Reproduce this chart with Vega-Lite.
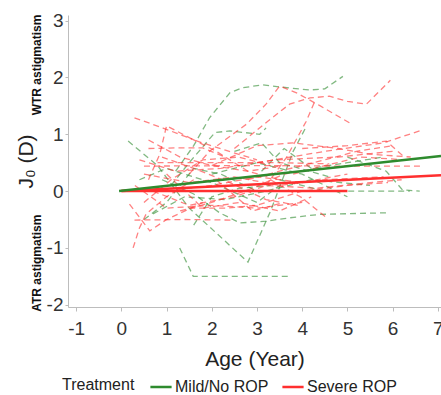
{
  "$schema": "https://vega.github.io/schema/vega-lite/v6.json",
  "autosize": "none",
  "width": 373,
  "height": 292,
  "padding": {"left": 68, "top": 15, "right": 0, "bottom": 88},
  "background": "white",
  "config": {
    "font": "Liberation Sans",
    "view": {"stroke": null},
    "axis": {"grid": false, "domainColor": "#bdbdbd", "tickColor": "#bdbdbd", "labelColor": "#333333", "titleColor": "#222222", "labelFont": "Liberation Sans", "titleFont": "Liberation Sans", "titleFontWeight": "normal"}
  },
  "datasets": {
    "traj": [
      {"id": "g1", "group": "Mild/No ROP", "age": 1.2, "j0": 0.35},
      {"id": "g1", "group": "Mild/No ROP", "age": 1.6, "j0": 0.8},
      {"id": "g1", "group": "Mild/No ROP", "age": 1.95, "j0": 1.29},
      {"id": "g1", "group": "Mild/No ROP", "age": 2.4, "j0": 1.73},
      {"id": "g1", "group": "Mild/No ROP", "age": 2.68, "j0": 1.82},
      {"id": "g1", "group": "Mild/No ROP", "age": 3.13, "j0": 1.87},
      {"id": "g1", "group": "Mild/No ROP", "age": 3.66, "j0": 1.82},
      {"id": "g1", "group": "Mild/No ROP", "age": 4.17, "j0": 1.78},
      {"id": "g1", "group": "Mild/No ROP", "age": 4.5, "j0": 1.8},
      {"id": "g1", "group": "Mild/No ROP", "age": 4.9, "j0": 2.02},
      {"id": "g2", "group": "Mild/No ROP", "age": 0.15, "j0": 0.88},
      {"id": "g2", "group": "Mild/No ROP", "age": 0.8, "j0": 0.45},
      {"id": "g2", "group": "Mild/No ROP", "age": 1.5, "j0": -0.3},
      {"id": "g2", "group": "Mild/No ROP", "age": 2.8, "j0": -1.25},
      {"id": "g2", "group": "Mild/No ROP", "age": 3.3, "j0": -0.35},
      {"id": "g2", "group": "Mild/No ROP", "age": 3.8, "j0": 0.7},
      {"id": "g2", "group": "Mild/No ROP", "age": 4.1, "j0": 1.15},
      {"id": "g3", "group": "Mild/No ROP", "age": 1.29, "j0": -1.0},
      {"id": "g3", "group": "Mild/No ROP", "age": 1.59, "j0": -1.5},
      {"id": "g3", "group": "Mild/No ROP", "age": 2.5, "j0": -1.5},
      {"id": "g3", "group": "Mild/No ROP", "age": 3.72, "j0": -1.5},
      {"id": "g4", "group": "Mild/No ROP", "age": 0.9, "j0": 0.2},
      {"id": "g4", "group": "Mild/No ROP", "age": 1.6, "j0": -0.05},
      {"id": "g4", "group": "Mild/No ROP", "age": 2.17, "j0": -0.38},
      {"id": "g4", "group": "Mild/No ROP", "age": 2.62, "j0": -0.56},
      {"id": "g4", "group": "Mild/No ROP", "age": 3.2, "j0": -0.53},
      {"id": "g4", "group": "Mild/No ROP", "age": 3.72, "j0": -0.47},
      {"id": "g4", "group": "Mild/No ROP", "age": 4.38, "j0": -0.41},
      {"id": "g4", "group": "Mild/No ROP", "age": 5.94, "j0": -0.38},
      {"id": "g5", "group": "Mild/No ROP", "age": 1.1, "j0": 0.1},
      {"id": "g5", "group": "Mild/No ROP", "age": 1.5, "j0": 0.5},
      {"id": "g5", "group": "Mild/No ROP", "age": 2.07, "j0": 1.03},
      {"id": "g5", "group": "Mild/No ROP", "age": 2.4, "j0": 1.06},
      {"id": "g5", "group": "Mild/No ROP", "age": 3.06, "j0": 1.0},
      {"id": "g5", "group": "Mild/No ROP", "age": 3.2, "j0": 1.11},
      {"id": "g6", "group": "Mild/No ROP", "age": 3.5, "j0": 0.2},
      {"id": "g6", "group": "Mild/No ROP", "age": 4.5, "j0": 0.0},
      {"id": "g6", "group": "Mild/No ROP", "age": 6.38, "j0": 0.0},
      {"id": "g7", "group": "Mild/No ROP", "age": 5.0, "j0": 0.6},
      {"id": "g7", "group": "Mild/No ROP", "age": 5.86, "j0": 0.35},
      {"id": "g7", "group": "Mild/No ROP", "age": 6.22, "j0": 0.02},
      {"id": "g7", "group": "Mild/No ROP", "age": 6.6, "j0": 0.0},
      {"id": "g8", "group": "Mild/No ROP", "age": 0.5, "j0": -0.5},
      {"id": "g8", "group": "Mild/No ROP", "age": 1.0, "j0": -0.2},
      {"id": "g8", "group": "Mild/No ROP", "age": 1.6, "j0": 0.4},
      {"id": "g8", "group": "Mild/No ROP", "age": 2.2, "j0": 0.3},
      {"id": "g8", "group": "Mild/No ROP", "age": 3.0, "j0": 0.0},
      {"id": "g9", "group": "Mild/No ROP", "age": 0.4, "j0": 0.2},
      {"id": "g9", "group": "Mild/No ROP", "age": 1.0, "j0": 0.4},
      {"id": "g9", "group": "Mild/No ROP", "age": 2.0, "j0": 0.15},
      {"id": "g9", "group": "Mild/No ROP", "age": 3.0, "j0": -0.2},
      {"id": "g9", "group": "Mild/No ROP", "age": 3.5, "j0": 0.1},
      {"id": "g10", "group": "Mild/No ROP", "age": 2.0, "j0": 0.3},
      {"id": "g10", "group": "Mild/No ROP", "age": 3.0, "j0": 0.5},
      {"id": "g10", "group": "Mild/No ROP", "age": 4.0, "j0": 0.3},
      {"id": "g10", "group": "Mild/No ROP", "age": 5.0, "j0": -0.1},
      {"id": "g11", "group": "Mild/No ROP", "age": 0.7, "j0": -0.4},
      {"id": "g11", "group": "Mild/No ROP", "age": 1.4, "j0": -0.1},
      {"id": "g11", "group": "Mild/No ROP", "age": 2.3, "j0": -0.15},
      {"id": "g11", "group": "Mild/No ROP", "age": 3.2, "j0": 0.0},
      {"id": "g11", "group": "Mild/No ROP", "age": 4.2, "j0": 0.2},
      {"id": "g11", "group": "Mild/No ROP", "age": 5.5, "j0": 0.1},
      {"id": "g12", "group": "Mild/No ROP", "age": 3.1, "j0": 0.35},
      {"id": "g12", "group": "Mild/No ROP", "age": 3.6, "j0": 0.75},
      {"id": "g12", "group": "Mild/No ROP", "age": 4.2, "j0": 0.4},
      {"id": "g12", "group": "Mild/No ROP", "age": 5.0, "j0": 0.5},
      {"id": "g12", "group": "Mild/No ROP", "age": 5.8, "j0": 0.6},
      {"id": "g13", "group": "Mild/No ROP", "age": 1.6, "j0": -0.6},
      {"id": "g13", "group": "Mild/No ROP", "age": 2.0, "j0": -0.1},
      {"id": "g13", "group": "Mild/No ROP", "age": 2.6, "j0": 0.05},
      {"id": "g13", "group": "Mild/No ROP", "age": 3.3, "j0": 0.1},
      {"id": "g14", "group": "Mild/No ROP", "age": 2.5, "j0": 0.7},
      {"id": "g14", "group": "Mild/No ROP", "age": 3.1, "j0": 0.85},
      {"id": "g14", "group": "Mild/No ROP", "age": 3.5, "j0": 0.5},
      {"id": "g14", "group": "Mild/No ROP", "age": 4.6, "j0": 0.25},
      {"id": "r1", "group": "Severe ROP", "age": 0.29, "j0": 1.29},
      {"id": "r1", "group": "Severe ROP", "age": 0.92, "j0": 1.11},
      {"id": "r1", "group": "Severe ROP", "age": 1.58, "j0": 0.91},
      {"id": "r1", "group": "Severe ROP", "age": 2.1, "j0": 0.7},
      {"id": "r1", "group": "Severe ROP", "age": 2.8, "j0": 0.35},
      {"id": "r1", "group": "Severe ROP", "age": 3.5, "j0": 0.2},
      {"id": "r2", "group": "Severe ROP", "age": 0.6, "j0": 0.2},
      {"id": "r2", "group": "Severe ROP", "age": 0.85, "j0": 0.65},
      {"id": "r2", "group": "Severe ROP", "age": 1.0, "j0": 1.15},
      {"id": "r2", "group": "Severe ROP", "age": 1.6, "j0": 0.9},
      {"id": "r2", "group": "Severe ROP", "age": 2.3, "j0": 0.72},
      {"id": "r2", "group": "Severe ROP", "age": 3.0, "j0": 0.55},
      {"id": "r3", "group": "Severe ROP", "age": 1.5, "j0": 0.3},
      {"id": "r3", "group": "Severe ROP", "age": 1.95, "j0": 0.7},
      {"id": "r3", "group": "Severe ROP", "age": 2.77, "j0": 1.18},
      {"id": "r3", "group": "Severe ROP", "age": 3.2, "j0": 1.53},
      {"id": "r3", "group": "Severe ROP", "age": 3.5, "j0": 1.85},
      {"id": "r3", "group": "Severe ROP", "age": 3.9, "j0": 1.72},
      {"id": "r3", "group": "Severe ROP", "age": 4.4, "j0": 1.5},
      {"id": "r3", "group": "Severe ROP", "age": 5.05, "j0": 1.2},
      {"id": "r4", "group": "Severe ROP", "age": 2.5, "j0": 0.75},
      {"id": "r4", "group": "Severe ROP", "age": 3.24, "j0": 1.23},
      {"id": "r4", "group": "Severe ROP", "age": 3.72, "j0": 1.53},
      {"id": "r4", "group": "Severe ROP", "age": 4.17, "j0": 1.64},
      {"id": "r4", "group": "Severe ROP", "age": 4.6, "j0": 1.67},
      {"id": "r4", "group": "Severe ROP", "age": 5.0, "j0": 1.58},
      {"id": "r4", "group": "Severe ROP", "age": 5.42, "j0": 1.53},
      {"id": "r4", "group": "Severe ROP", "age": 5.95, "j0": 1.95},
      {"id": "r5", "group": "Severe ROP", "age": 3.2, "j0": 0.1},
      {"id": "r5", "group": "Severe ROP", "age": 3.65, "j0": 0.59},
      {"id": "r5", "group": "Severe ROP", "age": 4.09, "j0": 1.23},
      {"id": "r5", "group": "Severe ROP", "age": 4.3, "j0": 1.62},
      {"id": "r6", "group": "Severe ROP", "age": 3.0, "j0": 0.5},
      {"id": "r6", "group": "Severe ROP", "age": 4.5, "j0": 0.7},
      {"id": "r6", "group": "Severe ROP", "age": 5.8, "j0": 0.85},
      {"id": "r6", "group": "Severe ROP", "age": 6.6, "j0": 1.06},
      {"id": "r7", "group": "Severe ROP", "age": 4.0, "j0": 0.75},
      {"id": "r7", "group": "Severe ROP", "age": 5.0, "j0": 0.8},
      {"id": "r7", "group": "Severe ROP", "age": 5.86, "j0": 0.88},
      {"id": "r7", "group": "Severe ROP", "age": 6.23, "j0": 0.62},
      {"id": "r8", "group": "Severe ROP", "age": 0.5, "j0": 0.44},
      {"id": "r8", "group": "Severe ROP", "age": 3.0, "j0": 0.45},
      {"id": "r8", "group": "Severe ROP", "age": 5.0, "j0": 0.44},
      {"id": "r8", "group": "Severe ROP", "age": 6.67, "j0": 0.44},
      {"id": "r9", "group": "Severe ROP", "age": 0.8, "j0": 0.5},
      {"id": "r9", "group": "Severe ROP", "age": 2.0, "j0": 0.5},
      {"id": "r9", "group": "Severe ROP", "age": 3.5, "j0": 0.5},
      {"id": "r9", "group": "Severe ROP", "age": 4.6, "j0": 0.48},
      {"id": "r10", "group": "Severe ROP", "age": 0.6, "j0": 0.75},
      {"id": "r10", "group": "Severe ROP", "age": 1.2, "j0": 0.76},
      {"id": "r10", "group": "Severe ROP", "age": 1.8, "j0": 0.76},
      {"id": "r10", "group": "Severe ROP", "age": 2.3, "j0": 0.6},
      {"id": "r11", "group": "Severe ROP", "age": 0.29, "j0": -0.51},
      {"id": "r11", "group": "Severe ROP", "age": 1.4, "j0": -0.5},
      {"id": "r11", "group": "Severe ROP", "age": 2.46, "j0": -0.51},
      {"id": "r12", "group": "Severe ROP", "age": 0.26, "j0": -1.0},
      {"id": "r12", "group": "Severe ROP", "age": 0.4, "j0": -0.65},
      {"id": "r12", "group": "Severe ROP", "age": 0.55, "j0": -0.4},
      {"id": "r12", "group": "Severe ROP", "age": 1.0, "j0": -0.1},
      {"id": "r12", "group": "Severe ROP", "age": 1.6, "j0": 0.2},
      {"id": "r13", "group": "Severe ROP", "age": 0.18, "j0": -0.23},
      {"id": "r13", "group": "Severe ROP", "age": 0.63, "j0": -0.7},
      {"id": "r13", "group": "Severe ROP", "age": 1.0, "j0": -0.5},
      {"id": "r13", "group": "Severe ROP", "age": 1.8, "j0": -0.2},
      {"id": "r14", "group": "Severe ROP", "age": 3.3, "j0": 0.2},
      {"id": "r14", "group": "Severe ROP", "age": 4.0, "j0": -0.12},
      {"id": "r14", "group": "Severe ROP", "age": 4.54, "j0": -0.47},
      {"id": "r15", "group": "Severe ROP", "age": 0.3, "j0": 0.1},
      {"id": "r15", "group": "Severe ROP", "age": 1.0, "j0": -0.3},
      {"id": "r15", "group": "Severe ROP", "age": 2.0, "j0": -0.25},
      {"id": "r15", "group": "Severe ROP", "age": 3.0, "j0": -0.3},
      {"id": "r15", "group": "Severe ROP", "age": 4.0, "j0": -0.2},
      {"id": "r16", "group": "Severe ROP", "age": 0.5, "j0": 0.3},
      {"id": "r16", "group": "Severe ROP", "age": 1.5, "j0": 0.15},
      {"id": "r16", "group": "Severe ROP", "age": 2.5, "j0": 0.25},
      {"id": "r16", "group": "Severe ROP", "age": 3.5, "j0": 0.1},
      {"id": "r16", "group": "Severe ROP", "age": 4.5, "j0": 0.2},
      {"id": "r16", "group": "Severe ROP", "age": 5.8, "j0": 0.25},
      {"id": "r17", "group": "Severe ROP", "age": 0.4, "j0": 0.55},
      {"id": "r17", "group": "Severe ROP", "age": 1.2, "j0": 0.35},
      {"id": "r17", "group": "Severe ROP", "age": 2.2, "j0": 0.4},
      {"id": "r17", "group": "Severe ROP", "age": 3.4, "j0": 0.55},
      {"id": "r17", "group": "Severe ROP", "age": 4.8, "j0": 0.6},
      {"id": "r17", "group": "Severe ROP", "age": 6.0, "j0": 0.7},
      {"id": "r18", "group": "Severe ROP", "age": 1.0, "j0": 0.3},
      {"id": "r18", "group": "Severe ROP", "age": 1.8, "j0": -0.3},
      {"id": "r18", "group": "Severe ROP", "age": 2.6, "j0": -0.2},
      {"id": "r18", "group": "Severe ROP", "age": 3.5, "j0": -0.35},
      {"id": "r18", "group": "Severe ROP", "age": 4.2, "j0": -0.1},
      {"id": "r19", "group": "Severe ROP", "age": 0.7, "j0": 0.0},
      {"id": "r19", "group": "Severe ROP", "age": 1.5, "j0": -0.25},
      {"id": "r19", "group": "Severe ROP", "age": 2.5, "j0": -0.1},
      {"id": "r19", "group": "Severe ROP", "age": 3.2, "j0": 0.1},
      {"id": "r19", "group": "Severe ROP", "age": 4.3, "j0": 0.05},
      {"id": "r19", "group": "Severe ROP", "age": 5.5, "j0": 0.15},
      {"id": "r19", "group": "Severe ROP", "age": 6.2, "j0": 0.2},
      {"id": "r20", "group": "Severe ROP", "age": 2.0, "j0": 0.45},
      {"id": "r20", "group": "Severe ROP", "age": 3.0, "j0": 0.8},
      {"id": "r20", "group": "Severe ROP", "age": 3.8, "j0": 0.85},
      {"id": "r20", "group": "Severe ROP", "age": 4.8, "j0": 0.75},
      {"id": "r20", "group": "Severe ROP", "age": 5.5, "j0": 0.65},
      {"id": "r20", "group": "Severe ROP", "age": 6.4, "j0": 0.6},
      {"id": "r21", "group": "Severe ROP", "age": 0.9, "j0": 0.6},
      {"id": "r21", "group": "Severe ROP", "age": 1.6, "j0": 0.4},
      {"id": "r21", "group": "Severe ROP", "age": 2.4, "j0": 0.15},
      {"id": "r21", "group": "Severe ROP", "age": 3.2, "j0": -0.15},
      {"id": "r21", "group": "Severe ROP", "age": 3.9, "j0": -0.25},
      {"id": "r22", "group": "Severe ROP", "age": 1.3, "j0": -0.35},
      {"id": "r22", "group": "Severe ROP", "age": 2.0, "j0": -0.2},
      {"id": "r22", "group": "Severe ROP", "age": 2.9, "j0": 0.05},
      {"id": "r22", "group": "Severe ROP", "age": 3.6, "j0": 0.3},
      {"id": "r22", "group": "Severe ROP", "age": 4.4, "j0": 0.4},
      {"id": "r23", "group": "Severe ROP", "age": 0.5, "j0": -0.2},
      {"id": "r23", "group": "Severe ROP", "age": 1.1, "j0": 0.2},
      {"id": "r23", "group": "Severe ROP", "age": 1.8, "j0": 0.55},
      {"id": "r23", "group": "Severe ROP", "age": 2.6, "j0": 0.6},
      {"id": "r23", "group": "Severe ROP", "age": 3.3, "j0": 0.45},
      {"id": "r24", "group": "Severe ROP", "age": 2.8, "j0": 0.2},
      {"id": "r24", "group": "Severe ROP", "age": 3.5, "j0": 0.35},
      {"id": "r24", "group": "Severe ROP", "age": 4.5, "j0": 0.55},
      {"id": "r24", "group": "Severe ROP", "age": 5.2, "j0": 0.7},
      {"id": "r24", "group": "Severe ROP", "age": 6.0, "j0": 0.8},
      {"id": "r25", "group": "Severe ROP", "age": 1.5, "j0": -0.3},
      {"id": "r25", "group": "Severe ROP", "age": 2.3, "j0": -0.3},
      {"id": "r25", "group": "Severe ROP", "age": 3.0, "j0": -0.25},
      {"id": "r25", "group": "Severe ROP", "age": 4.0, "j0": 0.0},
      {"id": "r25", "group": "Severe ROP", "age": 5.0, "j0": 0.1},
      {"id": "r25", "group": "Severe ROP", "age": 5.9, "j0": 0.15},
      {"id": "r26", "group": "Severe ROP", "age": 0.6, "j0": 0.9},
      {"id": "r26", "group": "Severe ROP", "age": 1.3, "j0": 0.6},
      {"id": "r26", "group": "Severe ROP", "age": 2.0, "j0": 0.45},
      {"id": "r26", "group": "Severe ROP", "age": 2.8, "j0": 0.35},
      {"id": "r26", "group": "Severe ROP", "age": 3.6, "j0": 0.45},
      {"id": "r27", "group": "Severe ROP", "age": 2.1, "j0": 0.2},
      {"id": "r27", "group": "Severe ROP", "age": 2.9, "j0": -0.35},
      {"id": "r27", "group": "Severe ROP", "age": 3.6, "j0": -0.2},
      {"id": "r28", "group": "Severe ROP", "age": 3.8, "j0": 0.3},
      {"id": "r28", "group": "Severe ROP", "age": 4.5, "j0": 0.45},
      {"id": "r28", "group": "Severe ROP", "age": 5.3, "j0": 0.6},
      {"id": "r28", "group": "Severe ROP", "age": 6.3, "j0": 0.55},
      {"id": "r29", "group": "Severe ROP", "age": 1.0, "j0": 0.0},
      {"id": "r29", "group": "Severe ROP", "age": 2.0, "j0": 0.1},
      {"id": "r29", "group": "Severe ROP", "age": 3.0, "j0": 0.25},
      {"id": "r29", "group": "Severe ROP", "age": 4.0, "j0": 0.15},
      {"id": "r29", "group": "Severe ROP", "age": 5.0, "j0": 0.3}
    ],
    "fits": [
      {"id": "f3", "group": "Severe ROP", "age": 0.0, "j0": 0.0},
      {"id": "f3", "group": "Severe ROP", "age": 5.0, "j0": 0.0},
      {"id": "f2", "group": "Severe ROP", "age": 0.0, "j0": 0.0},
      {"id": "f2", "group": "Severe ROP", "age": 7.07, "j0": 0.28},
      {"id": "f1", "group": "Mild/No ROP", "age": -0.05, "j0": 0.0},
      {"id": "f1", "group": "Mild/No ROP", "age": 7.07, "j0": 0.62}
    ],
    "notes": [
      {"label": "WTR astigmatism", "age": -1.86, "j0": 2.22},
      {"label": "ATR astigmatism", "age": -1.86, "j0": -1.27}
    ]
  },
  "layer": [
    {
      "data": {"name": "traj"},
      "mark": {"type": "line", "strokeDash": [6, 4], "strokeWidth": 1.3, "opacity": 0.6, "clip": true},
      "encoding": {
        "x": {"field": "age", "type": "quantitative", "scale": {"domain": [-1.18, 7.07], "nice": false, "zero": false},
          "axis": {"values": [-1, 0, 1, 2, 3, 4, 5, 6, 7], "labelExpr": "'' + datum.value", "title": "Age (Year)", "labelFontSize": 19, "titleFontSize": 21, "tickSize": 4, "labelPadding": 8, "titlePadding": 10, "labelFlush": false}},
        "y": {"field": "j0", "type": "quantitative", "scale": {"domain": [-2.04, 3.1], "nice": false, "zero": false},
          "axis": {"values": [-2, -1, 0, 1, 2, 3], "labelExpr": "'' + datum.value", "title": "J₀ (D)", "labelFontSize": 19, "titleFontSize": 21, "tickSize": 3, "labelPadding": 2, "titlePadding": 10}},
        "color": {"field": "group", "type": "nominal", "scale": {"domain": ["Mild/No ROP", "Severe ROP"], "range": ["#2e8b2e", "#ff2f2f"]},
          "legend": {"title": "Treatment", "orient": "none", "legendX": -6, "legendY": 360, "direction": "horizontal", "titleOrient": "left", "titleFontSize": 16, "titleFontWeight": "normal", "titleColor": "#222222", "labelFontSize": 16, "labelColor": "#222222", "symbolType": "stroke", "symbolSize": 450, "symbolStrokeWidth": 2.5, "symbolOpacity": 1, "symbolDash": [1, 0], "columnPadding": 8, "labelOffset": 2, "titlePadding": 14}},
        "detail": {"field": "id", "type": "nominal"}
      }
    },
    {
      "data": {"name": "fits"},
      "mark": {"type": "line", "strokeWidth": 2.5, "clip": true},
      "encoding": {
        "x": {"field": "age", "type": "quantitative"},
        "y": {"field": "j0", "type": "quantitative"},
        "color": {"field": "group", "type": "nominal"},
        "detail": {"field": "id", "type": "nominal"}
      }
    },
    {
      "data": {"name": "notes"},
      "mark": {"type": "text", "angle": 270, "fontSize": 12, "fontWeight": "bold", "font": "Liberation Sans", "color": "#111111", "align": "center", "baseline": "middle"},
      "encoding": {
        "x": {"field": "age", "type": "quantitative"},
        "y": {"field": "j0", "type": "quantitative"},
        "text": {"field": "label"}
      }
    }
  ]
}
